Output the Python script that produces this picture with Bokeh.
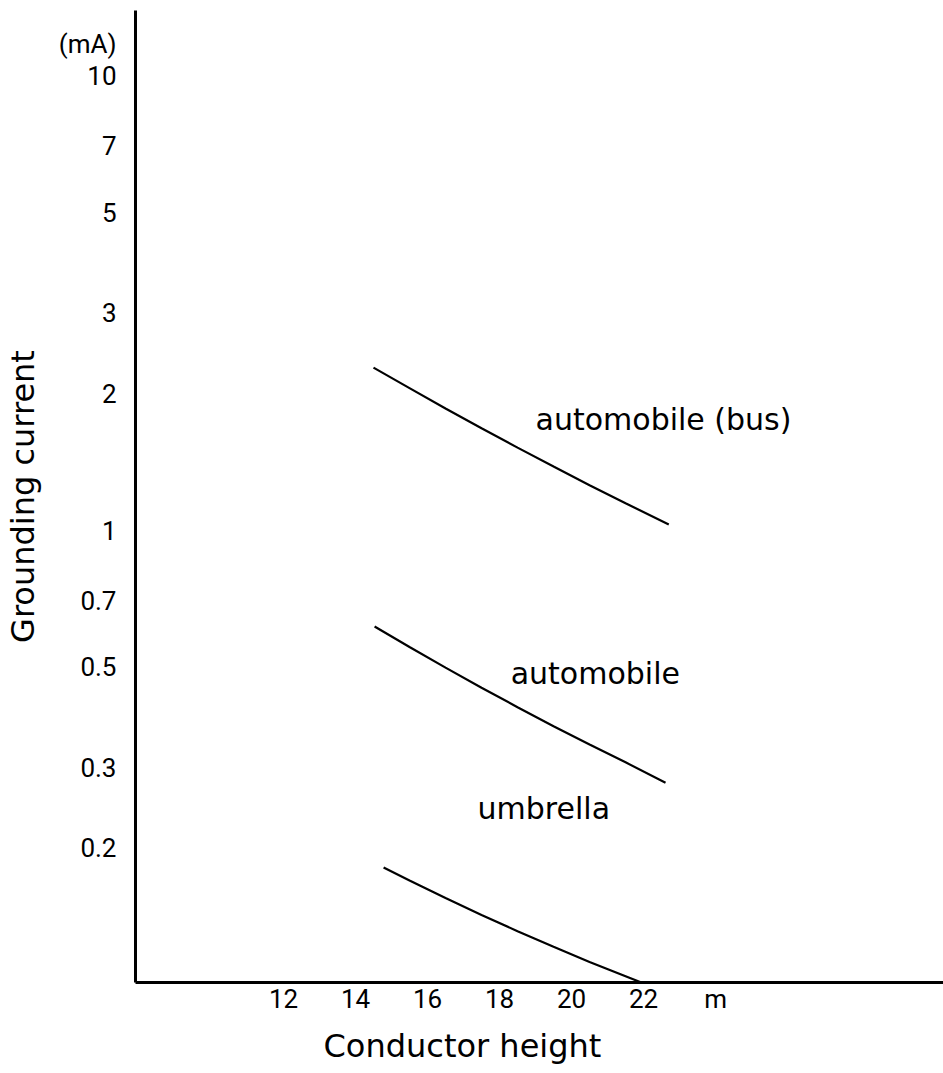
from bokeh.plotting import figure
from bokeh.models import FixedTicker, Title, Range1d
from bokeh.core.properties import value
from bokeh.embed import file_html
from bokeh.resources import INLINE

# Conductor height (m) against grounding current (mA) for each object
bus_height = [14.5, 15.5, 16.5, 17.5, 18.5, 19.5, 20.5, 21.5, 22.7]
bus_current = [2.28, 2.056, 1.855, 1.678, 1.521, 1.382, 1.258, 1.148, 1.031]

car_height = [14.53, 15.5, 16.5, 17.5, 18.5, 19.5, 20.5, 21.5, 22.61]
car_current = [0.615, 0.5546, 0.4996, 0.4513, 0.4089, 0.3714, 0.3386, 0.3093, 0.279]

umbrella_height = [14.78, 15.5, 16.5, 17.5, 18.5, 19.5, 20.5, 21.94]
umbrella_current = [0.1817, 0.1701, 0.1557, 0.1429, 0.1316, 0.1216, 0.1126, 0.1015]

# Curve names, written beside each curve (data coordinates of the text start)
curve_names = ["automobile (bus)", "automobile", "umbrella"]
name_x = [19.0, 18.31, 17.39]
name_y = [1.754, 0.485, 0.245]

# Tick positions and their labels
x_ticks = [12, 14, 16, 18, 20, 22, 24]
x_tick_labels = ["12", "14", "16", "18", "20", "22", "m"]
y_ticks = [0.2, 0.3, 0.5, 0.7, 1, 2, 3, 5, 7, 10, 11.75]
y_tick_labels = ["0.2", "0.3", "0.5", "0.7", "1", "2", "3", "5", "7", "10", "(mA)"]

TICK_FONT = "Roboto"
TEXT_FONT = "DejaVu Sans"

p = figure(
    width=943, height=1073,
    x_range=Range1d(7.89, 30.33),
    y_range=Range1d(0.1015, 13.9),
    y_axis_type="log",
    output_backend="svg",
    toolbar_location=None,
    min_border_left=135, min_border_right=0,
    min_border_top=10, min_border_bottom=91,
)
p.outline_line_color = None
p.xgrid.visible = False
p.ygrid.visible = False
p.background_fill_color = "white"
p.border_fill_color = "white"

for ax in (p.xaxis[0], p.yaxis[0]):
    ax.axis_line_color = "black"
    ax.axis_line_width = 3
    ax.major_tick_line_color = None
    ax.minor_tick_line_color = None
    ax.major_label_text_font = TICK_FONT
    ax.major_label_text_font_size = "26px"
    ax.major_label_text_color = "black"

p.xaxis.ticker = FixedTicker(ticks=x_ticks)
p.xaxis.major_label_overrides = dict(zip(x_ticks, x_tick_labels))
p.xaxis.major_label_standoff = -5

p.yaxis.ticker = FixedTicker(ticks=y_ticks)
p.yaxis.major_label_overrides = dict(zip(y_ticks, y_tick_labels))
p.yaxis.major_label_standoff = 13

p.yaxis.axis_label = "Grounding current"
p.yaxis.axis_label_text_font = TEXT_FONT
p.yaxis.axis_label_text_font_size = "32px"
p.yaxis.axis_label_text_font_style = "normal"
p.yaxis.axis_label_text_color = "black"
p.yaxis.axis_label_standoff = 14

xtitle = Title(
    text="Conductor height", align="left", offset=188,
    text_font=TEXT_FONT, text_font_size="32px", text_font_style="normal",
    text_color="black", text_line_height=1.0, standoff=16,
)
p.add_layout(xtitle, "below")

p.line(bus_height, bus_current, line_color="black", line_width=2.2)
p.line(car_height, car_current, line_color="black", line_width=2.2)
p.line(umbrella_height, umbrella_current, line_color="black", line_width=2.2)

p.text(
    x=name_x, y=name_y, text=curve_names,
    text_font=value(TEXT_FONT), text_font_size="30px",
    text_color="black", text_align="left", text_baseline="alphabetic",
)

open("out.html", "w").write(file_html(p, INLINE))
